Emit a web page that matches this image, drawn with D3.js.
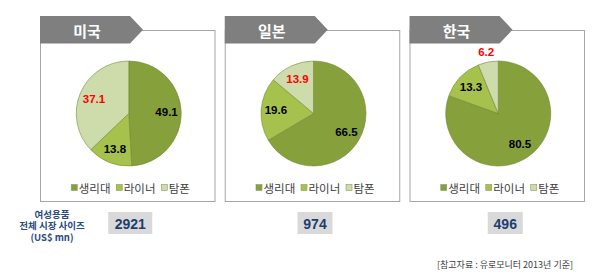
<!DOCTYPE html>
<html>
<head>
<meta charset="utf-8">
<script src="https://cdn.jsdelivr.net/npm/d3@7"></script>
<style>
  html, body { margin: 0; padding: 0; background: #fff; }
  svg { display: block; }
</style>
</head>
<body>
<svg id="chart" width="600" height="280"></svg>
<script>
// Feminine hygiene market share by product type (%), 2013
const countries = ["미국", "일본", "한국"];
const products = ["생리대", "라이너", "탐폰"];
const usShare = [49.1, 13.8, 37.1];
const japanShare = [66.5, 19.6, 13.9];
const koreaShare = [80.5, 13.3, 6.2];
const marketSize = [2921, 974, 496];          // total market size, US$ mn
const sizeCaption = ["여성용품", "전체 시장 사이즈", "(US$ mn)"];
const sourceNote = "[참고자료 : 유로모니터 2013년 기준]";

const shares = [usShare, japanShare, koreaShare];

const svg = d3.select("#chart");
const KR = "'Noto Sans CJK KR', 'Noto Sans', sans-serif";
const NUM = "'Liberation Sans', Arial, sans-serif";

const color = d3.scaleOrdinal()
  .domain(products)
  .range(["#86a03c", "#a7c24c", "#cedbab"]);

// panel frames
const panelX = d3.scaleBand().domain(countries).range([40, 585]).paddingInner(0.05);
const panelTop = 30, panelBottom = 201;
const pieR = 52.5, pieCy = 113.5;

const pie = d3.pie().sort(null).value(d => d.value);
const arc = d3.arc().innerRadius(0).outerRadius(pieR);

countries.forEach((country, i) => {
  const x0 = panelX(country);
  const w = panelX.bandwidth();
  const g = svg.append("g");

  // panel border
  g.append("rect")
    .attr("x", x0 + 0.5).attr("y", panelTop + 0.5)
    .attr("width", w - 1).attr("height", panelBottom - panelTop)
    .attr("fill", "none").attr("stroke", "#a6a6a6").attr("stroke-width", 1);

  // title tab with arrow point
  const tabTop = 16, tabBottom = 43.5, tabRight = x0 + 90, tabTip = x0 + 103;
  g.append("path")
    .attr("d", `M${x0},${tabTop} L${tabRight},${tabTop} L${tabTip},${(tabTop + tabBottom) / 2} L${tabRight},${tabBottom} L${x0},${tabBottom} Z`)
    .attr("fill", "#7f7f7f");
  g.append("text")
    .attr("x", x0 + 47).attr("y", 30)
    .attr("text-anchor", "middle").attr("dominant-baseline", "central")
    .attr("fill", "#fff").attr("font-family", KR).attr("font-weight", "bold")
    .attr("font-size", 15)
    .text(country);

  // pie
  const cx = x0 + w / 2 + 1;
  const data = products.map((p, k) => ({ name: p, value: shares[i][k] }));
  const arcs = pie(data);
  const pg = g.append("g").attr("transform", `translate(${cx},${pieCy})`);
  pg.selectAll("path").data(arcs).join("path")
    .attr("d", arc)
    .attr("fill", d => color(d.data.name))
    .attr("stroke", "#6f8530").attr("stroke-width", 0.8).attr("stroke-opacity", 0.7);

  // value labels: inside the slice, or just outside for thin slices
  pg.selectAll("text").data(arcs).join("text")
    .attr("transform", d => {
      const a = (d.startAngle + d.endAngle) / 2;
      const rr = d.data.value < 10 ? pieR + 10 : pieR * 0.72;
      return `translate(${Math.sin(a) * rr},${-Math.cos(a) * rr})`;
    })
    .attr("text-anchor", "middle").attr("dominant-baseline", "central")
    .attr("font-family", NUM).attr("font-weight", "bold").attr("font-size", 11.5)
    .attr("fill", d => d.data.name === "탐폰" ? "#ff0000" : "#000")
    .text(d => d3.format(".1f")(d.data.value));

  // legend
  const lg = g.append("g").attr("transform", `translate(${cx - 58},188)`);
  const step = 45;
  products.forEach((p, k) => {
    lg.append("rect")
      .attr("x", k * step + 0.5).attr("y", -3.5)
      .attr("width", 6).attr("height", 6)
      .attr("fill", color(p)).attr("stroke", "#8a9a6a").attr("stroke-width", 0.6);
    lg.append("text")
      .attr("x", k * step + 8).attr("y", 0)
      .attr("dominant-baseline", "central")
      .attr("font-family", KR).attr("font-size", 11.5).attr("fill", "#404040")
      .text(p);
  });

  // market size box
  const boxW = String(marketSize[i]).length > 3 ? 44 : 35;
  const bx = cx + (i === 2 ? 7 : 1.5);
  g.append("rect")
    .attr("x", bx - boxW / 2).attr("y", 212)
    .attr("width", boxW).attr("height", 22)
    .attr("fill", "#d9d9d9");
  g.append("text")
    .attr("x", bx).attr("y", 223.5)
    .attr("text-anchor", "middle").attr("dominant-baseline", "central")
    .attr("font-family", NUM).attr("font-weight", "bold").attr("font-size", 14)
    .attr("fill", "#1f3d6e")
    .text(marketSize[i]);
});

// caption for the market size row, one multi-line text block
svg.append("text")
  .attr("text-anchor", "middle")
  .attr("font-family", KR).attr("font-weight", "bold").attr("font-size", 9.5)
  .attr("fill", "#2a4a80")
  .selectAll("tspan").data(sizeCaption).join("tspan")
  .attr("x", 52).attr("y", (d, k) => 217.5 + k * 11.5)
  .text(d => d);

// source note
svg.append("text")
  .attr("x", 573).attr("y", 264)
  .attr("text-anchor", "end").attr("dominant-baseline", "central")
  .attr("font-family", KR).attr("font-size", 9).attr("fill", "#404040")
  .text(sourceNote);
</script>
</body>
</html>
